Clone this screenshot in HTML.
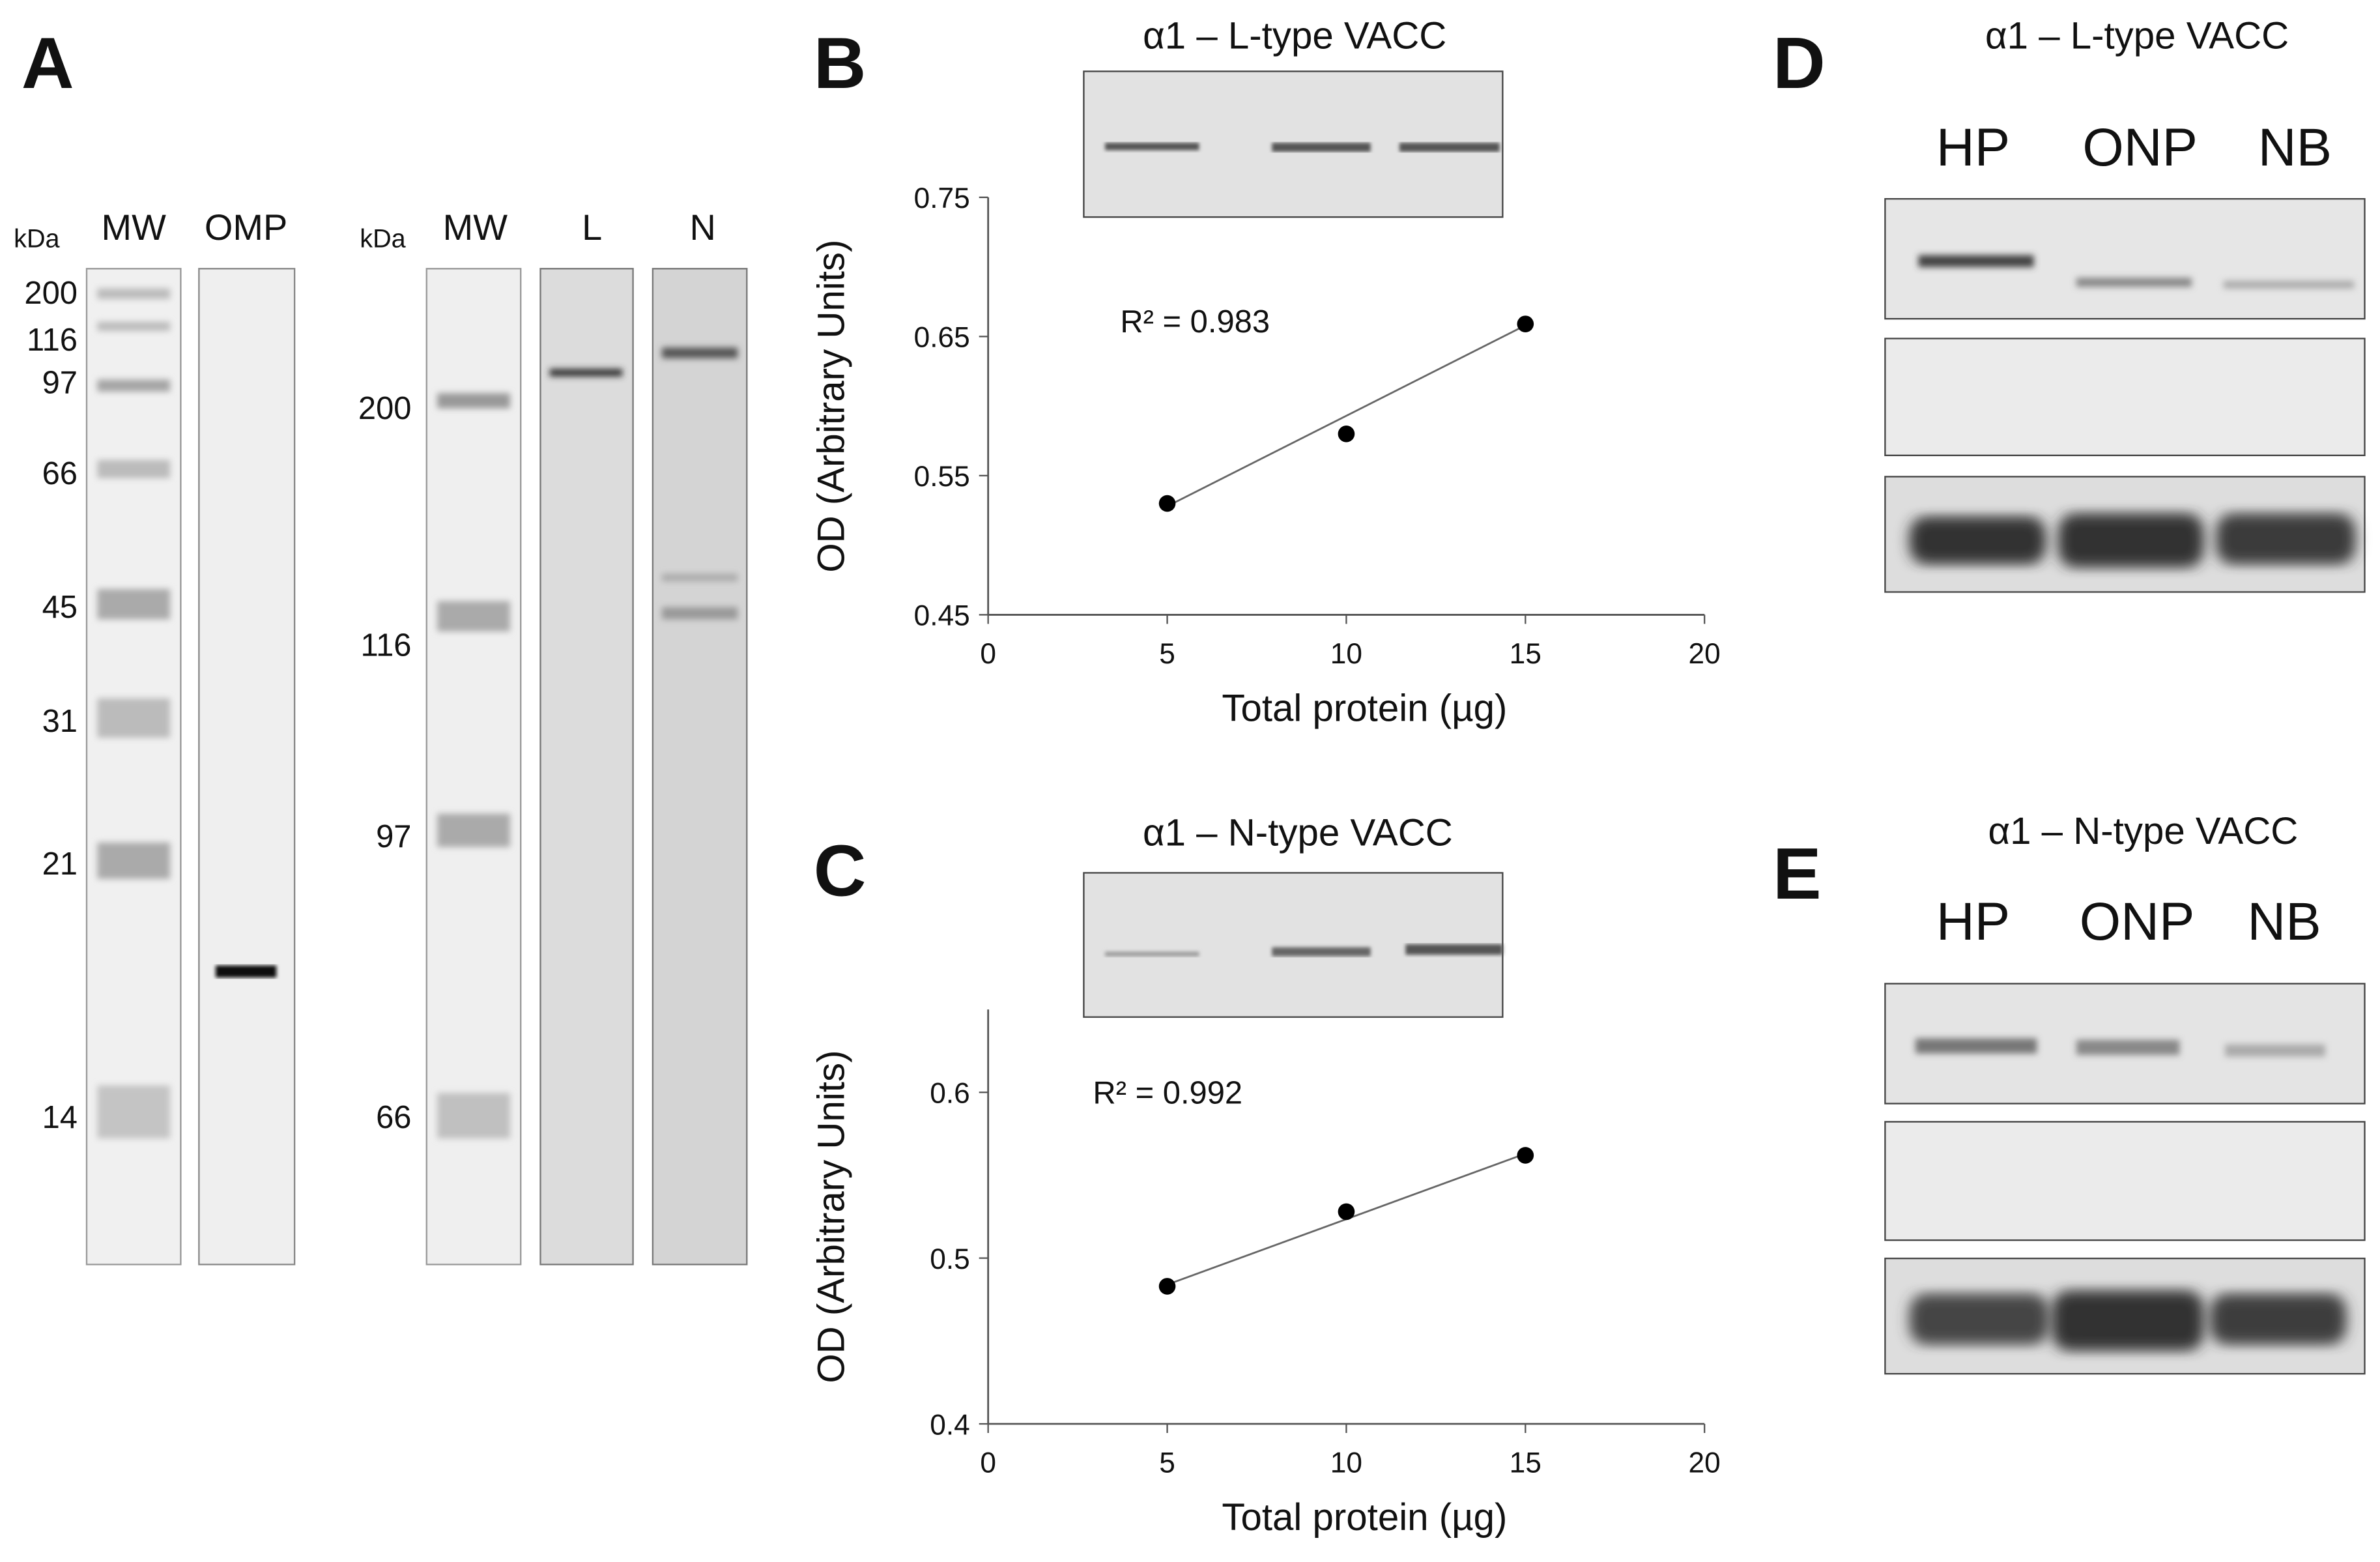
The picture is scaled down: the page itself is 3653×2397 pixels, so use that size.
<!DOCTYPE html>
<html><head><meta charset="utf-8"><style>
html,body{margin:0;padding:0;background:#fff}
svg{display:block}
text{font-family:"Liberation Sans",sans-serif;fill:#111}
</style></head><body>
<svg width="3653" height="2397" viewBox="0 0 1568 1029" xmlns="http://www.w3.org/2000/svg">
<defs>
<filter id="b2"><feGaussianBlur stdDeviation="2"/></filter>
<filter id="b4"><feGaussianBlur stdDeviation="4"/></filter>
<filter id="b1"><feGaussianBlur stdDeviation="1.2"/></filter>
</defs>
<rect width="1568" height="1029" fill="#fff"/>

<!-- Panel A -->
<g>
<text x="14" y="58" font-size="48" font-weight="bold">A</text>
<text x="9" y="163" font-size="17">kDa</text>
<text x="88" y="158" font-size="24" text-anchor="middle">MW</text>
<text x="162" y="158" font-size="24" text-anchor="middle">OMP</text>
<g font-size="21" text-anchor="end">
<text x="51" y="200">200</text><text x="51" y="231">116</text><text x="51" y="259">97</text>
<text x="51" y="319">66</text><text x="51" y="407">45</text><text x="51" y="482">31</text>
<text x="51" y="576">21</text><text x="51" y="743">14</text></g>
<rect x="57" y="177" width="62" height="656" fill="#f0f0f0" stroke="#999"/>
<rect x="131" y="177" width="63" height="656" fill="#efefef" stroke="#888"/>
<g filter="url(#b2)">
<rect x="64" y="190" width="48" height="7" fill="#bbb"/>
<rect x="64" y="212" width="48" height="6" fill="#bbb"/>
<rect x="64" y="250" width="48" height="8" fill="#a5a5a5"/>
<rect x="64" y="303" width="48" height="12" fill="#bbb"/>
<rect x="64" y="388" width="48" height="20" fill="#aaa"/>
<rect x="64" y="460" width="48" height="26" fill="#bbb"/>
<rect x="64" y="555" width="48" height="24" fill="#aaa"/>
<rect x="64" y="715" width="48" height="35" fill="#c4c4c4"/>
</g>
<rect x="142" y="636" width="40" height="8" fill="#111" filter="url(#b1)"/>

<text x="237" y="163" font-size="17">kDa</text>
<text x="313" y="158" font-size="24" text-anchor="middle">MW</text>
<text x="390" y="158" font-size="24" text-anchor="middle">L</text>
<text x="463" y="158" font-size="24" text-anchor="middle">N</text>
<g font-size="21" text-anchor="end">
<text x="271" y="276">200</text><text x="271" y="432">116</text>
<text x="271" y="558">97</text><text x="271" y="743">66</text></g>
<rect x="281" y="177" width="62" height="656" fill="#efefef" stroke="#999"/>
<rect x="356" y="177" width="61" height="656" fill="#dcdcdc" stroke="#777"/>
<rect x="430" y="177" width="62" height="656" fill="#d4d4d4" stroke="#777"/>
<g filter="url(#b2)">
<rect x="288" y="259" width="48" height="10" fill="#999"/>
<rect x="288" y="396" width="48" height="20" fill="#aaa"/>
<rect x="288" y="536" width="48" height="22" fill="#aaa"/>
<rect x="288" y="720" width="48" height="30" fill="#c0c0c0"/>
<rect x="362" y="243" width="48" height="5" fill="#333"/>
<rect x="436" y="229" width="50" height="7" fill="#555"/>
<rect x="436" y="378" width="50" height="5" fill="#aaa"/>
<rect x="436" y="400" width="50" height="8" fill="#999"/>
</g>
</g>

<!-- Panel B -->
<g>
<text x="536" y="58" font-size="48" font-weight="bold">B</text>
<text x="853" y="32" font-size="25" text-anchor="middle">α1 – L-type VACC</text>
<rect x="714" y="47" width="276" height="96" fill="#e2e2e2" stroke="#444"/>
<g filter="url(#b1)" fill="#555">
<rect x="728" y="94" width="62" height="5"/><rect x="838" y="94" width="65" height="6"/><rect x="922" y="94" width="66" height="6"/></g>
<g id="chartB"></g>
<text x="738" y="219" font-size="21">R² = 0.983</text>
</g>

<!-- Panel C -->
<g>
<text x="536" y="590" font-size="48" font-weight="bold">C</text>
<text x="855" y="557" font-size="25" text-anchor="middle">α1 – N-type VACC</text>
<rect x="714" y="575" width="276" height="95" fill="#e2e2e2" stroke="#444"/>
<g filter="url(#b1)" fill="#666">
<rect x="728" y="627" width="62" height="3" fill="#999"/><rect x="838" y="624" width="65" height="6"/><rect x="926" y="622" width="64" height="7" fill="#555"/></g>
<g id="chartC"></g>
<text x="720" y="727" font-size="21">R² = 0.992</text>
</g>

<!-- Panel D -->
<g>
<text x="1168" y="58" font-size="48" font-weight="bold">D</text>
<text x="1408" y="32" font-size="25" text-anchor="middle">α1 – L-type VACC</text>
<g font-size="35" text-anchor="middle"><text x="1300" y="109">HP</text><text x="1410" y="109">ONP</text><text x="1512" y="109">NB</text></g>
<rect x="1242" y="131" width="316" height="79" fill="#e6e6e6" stroke="#444"/>
<rect x="1242" y="223" width="316" height="77" fill="#ebebeb" stroke="#444"/>
<rect x="1242" y="314" width="316" height="76" fill="#ddd" stroke="#444"/>
<g filter="url(#b2)">
<rect x="1264" y="168" width="76" height="8" fill="#444"/>
<rect x="1368" y="183" width="76" height="6" fill="#888"/>
<rect x="1465" y="185" width="86" height="5" fill="#aaa"/>
<rect x="1258" y="340" width="90" height="32" rx="12" fill="#333" filter="url(#b4)"/>
<rect x="1356" y="338" width="96" height="36" rx="12" fill="#333" filter="url(#b4)"/>
<rect x="1460" y="338" width="92" height="34" rx="12" fill="#3a3a3a" filter="url(#b4)"/>
</g>
</g>

<!-- Panel E -->
<g>
<text x="1168" y="592" font-size="48" font-weight="bold">E</text>
<text x="1412" y="556" font-size="25" text-anchor="middle">α1 – N-type VACC</text>
<g font-size="35" text-anchor="middle"><text x="1300" y="619">HP</text><text x="1408" y="619">ONP</text><text x="1505" y="619">NB</text></g>
<rect x="1242" y="648" width="316" height="79" fill="#e4e4e4" stroke="#444"/>
<rect x="1242" y="739" width="316" height="78" fill="#ebebeb" stroke="#444"/>
<rect x="1242" y="829" width="316" height="76" fill="#ddd" stroke="#444"/>
<g filter="url(#b2)">
<rect x="1262" y="684" width="80" height="10" fill="#777"/>
<rect x="1368" y="685" width="68" height="10" fill="#888"/>
<rect x="1466" y="688" width="66" height="8" fill="#aaa"/>
<rect x="1258" y="852" width="92" height="34" rx="12" fill="#444" filter="url(#b4)"/>
<rect x="1352" y="850" width="100" height="40" rx="12" fill="#333" filter="url(#b4)"/>
<rect x="1456" y="852" width="90" height="34" rx="12" fill="#3c3c3c" filter="url(#b4)"/>
</g>
</g>
</svg>
<script>
const xTicks=[0,5,10,15,20];
const bX=[5,10,15];
const bY=[0.53,0.58,0.659];
const bYTicks=[0.45,0.55,0.65,0.75];
const bYLabels=['0.45','0.55','0.65','0.75'];
const bFit=[0.528,0.658];
const cX=[5,10,15];
const cY=[0.483,0.528,0.562];
const cYTicks=[0.4,0.5,0.6];
const cYLabels=['0.4','0.5','0.6'];
const cFit=[0.484,0.563];
const NS='http://www.w3.org/2000/svg';
function mk(t,a,p){const e=document.createElementNS(NS,t);for(const k in a)e.setAttribute(k,a[k]);p.appendChild(e);return e;}
function chart(id,xs,ys,yt,ylab,fit,yMin,yMax,top,bottom){
 const g=document.getElementById(id);
 const x0=651,x1=1123;
 const sx=v=>x0+(v-0)/(20-0)*(x1-x0);
 const sy=v=>bottom-(v-yMin)/(yMax-yMin)*(bottom-top);
 const ax=mk('line',{x1:x0,y1:top,x2:x0,y2:bottom,stroke:'#555','stroke-width':1.2},g);
 
 
 const bx=mk('line',{x1:x0,y1:bottom,x2:x1,y2:bottom,stroke:'#555','stroke-width':1.2},g);
 
 
 yt.forEach((v,i)=>{const y=sy(v);mk('line',{x1:x0-6,y1:y,x2:x0,y2:y,stroke:'#555'},g);
  const t=mk('text',{x:x0-12,y:y+7,'font-size':19,'text-anchor':'end'},g);t.textContent=ylab[i];
  
  });
 xTicks.forEach(v=>{const x=sx(v);mk('line',{x1:x,y1:bottom,x2:x,y2:bottom+6,stroke:'#555'},g);
  const t=mk('text',{x:x,y:bottom+32,'font-size':19,'text-anchor':'middle'},g);t.textContent=v;
  
  });
 const l=mk('line',{x1:sx(xs[0]),y1:sy(fit[0]),x2:sx(xs[xs.length-1]),y2:sy(fit[1]),stroke:'#666','stroke-width':1.2},g);
 
 
 xs.forEach((v,i)=>{const c=mk('circle',{cx:sx(v),cy:sy(ys[i]),r:5.5,fill:'#000'},g);
  
  });
 const xl=mk('text',{x:(x0+x1)/2+12,y:bottom+70,'font-size':25,'text-anchor':'middle'},g);xl.textContent='Total protein (µg)';
 
 
 const yc=(top+bottom)/2;
 const yl=mk('text',{x:556,y:yc,'font-size':25,'text-anchor':'middle',transform:`rotate(-90 556 ${yc})`},g);yl.textContent='OD (Arbitrary Units)';
 
 
}
chart('chartB',bX,bY,bYTicks,bYLabels,bFit,0.45,0.75,130,405);
chart('chartC',cX,cY,cYTicks,cYLabels,cFit,0.4,0.65,665,938);
</script>
</body></html>
